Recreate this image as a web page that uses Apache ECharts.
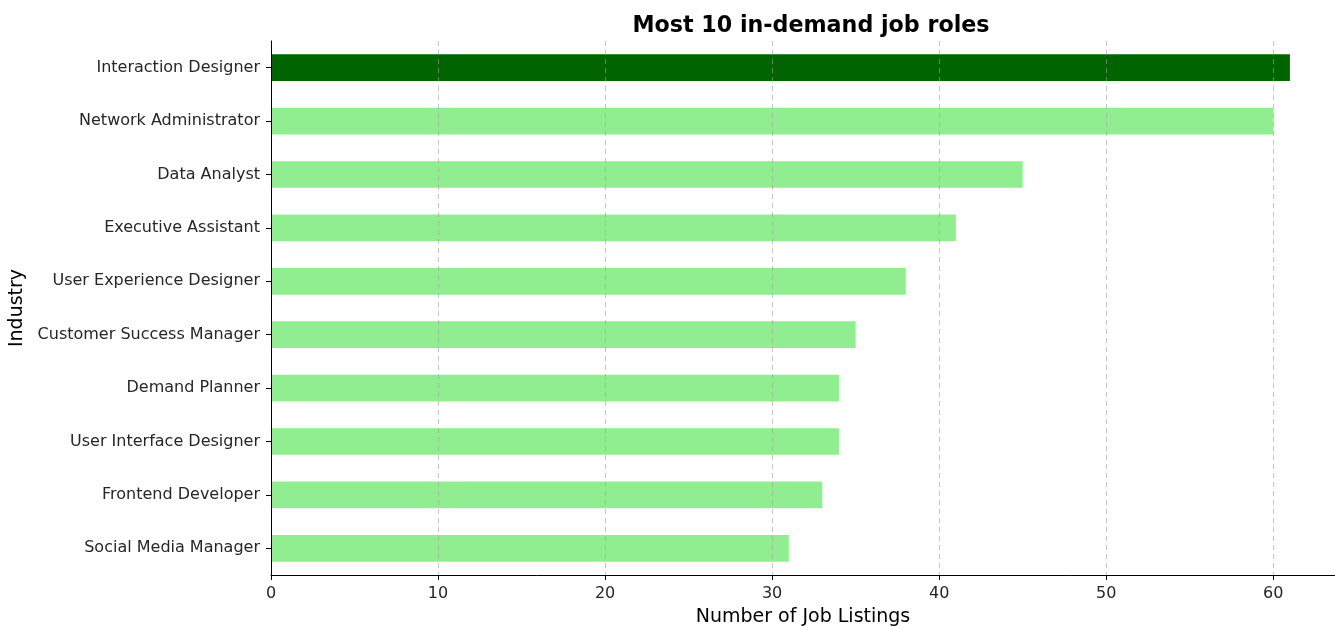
<!DOCTYPE html>
<html>
<head>
<meta charset="utf-8">
<script src="https://cdn.jsdelivr.net/npm/echarts@6/dist/echarts.min.js"></script>
<style>
html,body{margin:0;padding:0;background:#fff;}
#chart{width:1335px;height:626px;}
</style>
</head>
<body>
<div id="chart"></div>
<script>
// 岗位名称，从上到下
var roles = ['Interaction Designer','Network Administrator','Data Analyst','Executive Assistant','User Experience Designer','Customer Success Manager','Demand Planner','User Interface Designer','Frontend Developer','Social Media Manager'];
var listings = [61,60,45,41,38,35,34,34,33,31];
var xTicks = [0,10,20,30,40,50,60];

var topColor = '#006400';
var restColor = '#90EE90';

var myChart = echarts.init(document.getElementById('chart'));
var option = {
    animation: false,
    title: {
        text: 'Most 10 in-demand job roles',
        left: 806,
        textAlign: 'center',
        top: 10,
        textStyle: {fontFamily: 'DejaVu Sans', fontSize: 22.2, fontWeight: 'bold', color: '#000'}
    },
    grid: {left: 271, right: 0, top: 41, bottom: 51, outerBoundsMode: 'none', containLabel: false},
    xAxis: {
        type: 'value',
        min: 0,
        max: 63.7,
        interval: 10,
        z: 3,
        name: 'Number of Job Listings',
        nameLocation: 'middle',
        nameGap: 33,
        nameTextStyle: {fontFamily: 'DejaVu Sans', fontSize: 19, color: '#000'},
        axisLine: {show: true, lineStyle: {color: '#000', width: 1}},
        axisTick: {show: true, length: 5, lineStyle: {color: '#000'}},
        axisLabel: {
            fontFamily: 'DejaVu Sans', fontSize: 16, color: '#262626', margin: 11,
            showMaxLabel: false,
            formatter: function(v){ return xTicks.indexOf(v) >= 0 ? v : ''; }
        },
        splitLine: {show: true, lineStyle: {color: 'rgba(160,160,160,0.6)', type: [5, 4], width: 1}}
    },
    yAxis: {
        type: 'category',
        data: roles,
        inverse: true,
        z: 4,
        name: 'Industry',
        nameLocation: 'middle',
        nameGap: 232,
        nameRotate: 90,
        nameTextStyle: {fontFamily: 'DejaVu Sans', fontSize: 19, color: '#000'},
        axisLine: {show: true, lineStyle: {color: '#000', width: 1}},
        axisTick: {show: true, alignWithLabel: true, length: 5, lineStyle: {color: '#000'}},
        axisLabel: {fontFamily: 'DejaVu Sans', fontSize: 16, color: '#262626', margin: 11},
        splitLine: {show: false}
    },
    series: [{
        type: 'bar',
        barCategoryGap: '50%',
        data: listings.map(function(v, i){
            return {value: v, itemStyle: {color: i === 0 ? topColor : restColor}};
        })
    }]
};
myChart.setOption(option);
</script>
</body>
</html>
